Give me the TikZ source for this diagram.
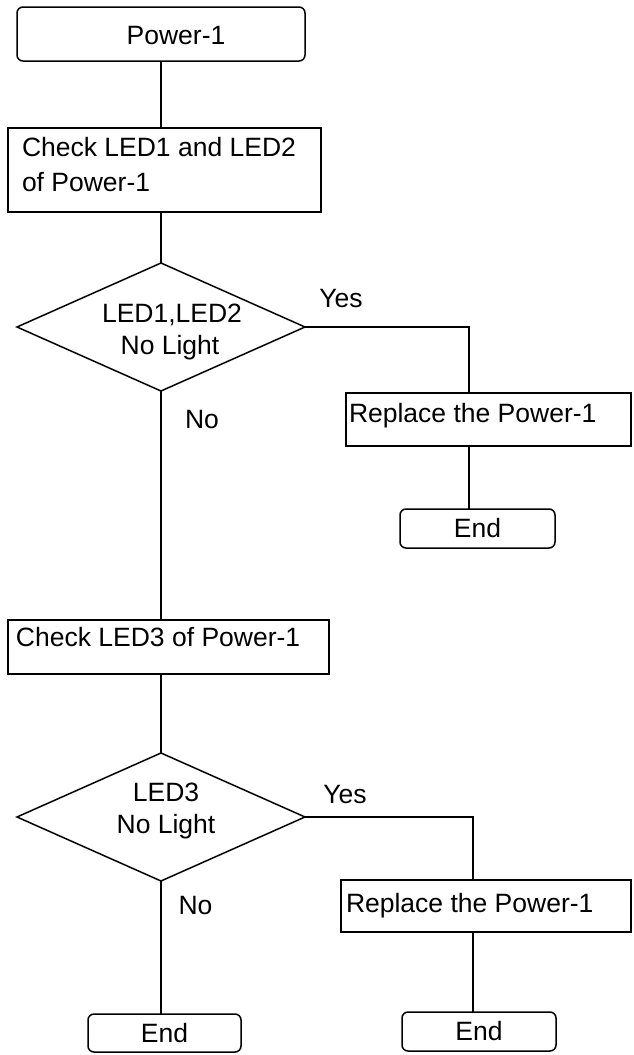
\documentclass[tikz,border=0pt]{standalone}
\usepackage{fontspec}
\setmainfont{Liberation Sans}
\usetikzlibrary{shapes.geometric,calc}
\begin{document}
\begin{tikzpicture}[x=1pt,y=-1pt,
  every node/.style={font=\fontsize{26.5pt}{32pt}\selectfont, inner sep=0pt, outer sep=0pt},
  term/.style={draw, rounded corners=6pt, line width=1.5pt, anchor=north west},
  procbox/.style={draw, line width=1.5pt, anchor=north west},
  decis/.style={draw, diamond, line width=1.5pt, minimum width=288pt, minimum height=128pt},
  ltxt/.style={anchor=base west},
  ctxt/.style={anchor=base},
  link/.style={draw, line width=1.5pt}]
\useasboundingbox (0,0) rectangle (633,1055);

% shapes
\node[term, minimum width=288pt, minimum height=54pt] (start) at (17,7) {};
\node[procbox, minimum width=313pt, minimum height=84pt] (c1) at (8,128) {};
\node[decis] (d1) at (161,327) {};
\node[procbox, minimum width=285pt, minimum height=53pt] (r1) at (346,393) {};
\node[term, minimum width=155pt, minimum height=39pt] (e1) at (400,509) {End};
\node[procbox, minimum width=321pt, minimum height=54pt] (c2) at (8,620) {};
\node[decis] (d2) at (161,817) {};
\node[procbox, minimum width=290pt, minimum height=52pt] (r2) at (341,880) {};
\node[term, minimum width=153pt, minimum height=38pt] (e2) at (88,1014) {End};
\node[term, minimum width=154pt, minimum height=39pt] (e3) at (402,1012) {End};

% texts
\node[ctxt] (t0) at (176,44.5) {Power-1};
\node[ltxt] (t1a) at (22,156) {Check LED1 and LED2};
\node[ltxt] (t1b) at (22,191) {of Power-1};
\node[ctxt] (td1a) at (172,322) {LED1,LED2};
\node[ctxt] (td1b) at (170,354) {No Light};
\node[ctxt] (yes1) at (341,307) {Yes};
\node[ctxt] (no1) at (202,428) {No};
\node[ltxt] (tr1) at (349,422) {Replace the Power-1};
\node[ltxt] (t2) at (16,646) {Check LED3 of Power-1};
\node[ctxt] (td2a) at (166,801) {LED3};
\node[ctxt] (td2b) at (166,833) {No Light};
\node[ctxt] (yes2) at (345,803) {Yes};
\node[ctxt] (no2) at (195.5,914) {No};
\node[ltxt] (tr2) at (346,912) {Replace the Power-1};

% connectors
\coordinate (y1) at (469,327);
\coordinate (y2) at (473,817);
\draw[link] (start.south) -- (start.south |- c1.north);
\draw[link] (c1.south -| d1.north) -- (d1.north);
\draw[link] (d1.east) -- (y1) -- (y1 |- r1.north);
\draw[link] (y1 |- r1.south) -- (y1 |- e1.north);
\draw[link] (d1.south) -- (d1.south |- c2.north);
\draw[link] (c2.south -| d2.north) -- (d2.north);
\draw[link] (d2.east) -- (y2) -- (y2 |- r2.north);
\draw[link] (y2 |- r2.south) -- (y2 |- e3.north);
\draw[link] (d2.south) -- (d2.south |- e2.north);
\end{tikzpicture}
\end{document}
